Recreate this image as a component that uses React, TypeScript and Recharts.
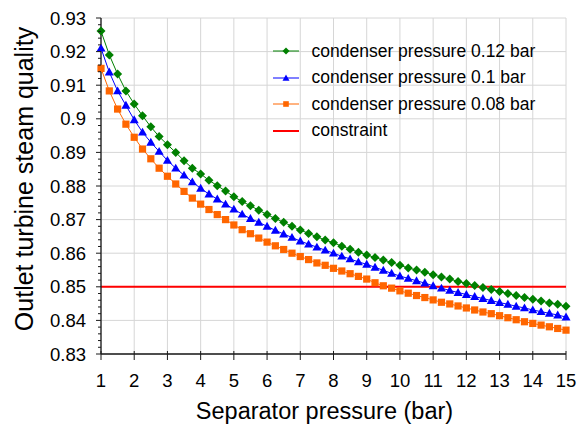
import React from 'react';
import { LineChart, Line, XAxis, YAxis, CartesianGrid } from 'recharts';

// separator pressure (bar), one point every 0.25 bar
const separatorPressure = [
  1, 1.25, 1.5, 1.75, 2, 2.25, 2.5, 2.75, 3, 3.25, 3.5, 3.75, 4, 4.25, 4.5, 4.75,
  5, 5.25, 5.5, 5.75, 6, 6.25, 6.5, 6.75, 7, 7.25, 7.5, 7.75, 8, 8.25, 8.5, 8.75,
  9, 9.25, 9.5, 9.75, 10, 10.25, 10.5, 10.75, 11, 11.25, 11.5, 11.75, 12, 12.25, 12.5, 12.75,
  13, 13.25, 13.5, 13.75, 14, 14.25, 14.5, 14.75, 15,
];

// outlet steam quality, condenser 0.12 bar
const quality012 = [
  0.9261, 0.919, 0.9133, 0.9083, 0.9044, 0.9009, 0.8976, 0.8947, 0.8923, 0.89, 0.8875, 0.8853, 0.8836, 0.8817, 0.8801, 0.8785,
  0.8768, 0.8754, 0.8741, 0.8728, 0.8715, 0.8703, 0.8692, 0.868, 0.8669, 0.8659, 0.8649, 0.8639, 0.8631, 0.8621, 0.8612, 0.8603,
  0.8595, 0.8587, 0.858, 0.8572, 0.8564, 0.8556, 0.855, 0.8543, 0.8536, 0.8529, 0.8523, 0.8516, 0.851, 0.8504, 0.8498, 0.8492,
  0.8486, 0.848, 0.8474, 0.8468, 0.8463, 0.8458, 0.8452, 0.8448, 0.8442,
];

// condenser 0.1 bar
const quality010 = [
  0.921, 0.9139, 0.9083, 0.904, 0.8997, 0.896, 0.893, 0.8903, 0.8876, 0.8853, 0.8832, 0.8812, 0.8793, 0.8776, 0.8761, 0.8746,
  0.8731, 0.8716, 0.8703, 0.8692, 0.868, 0.8668, 0.8657, 0.8647, 0.8636, 0.8627, 0.8618, 0.8609, 0.86, 0.8591, 0.8583, 0.8574,
  0.8567, 0.8558, 0.8549, 0.854, 0.8532, 0.8525, 0.8518, 0.8511, 0.8503, 0.8496, 0.8489, 0.8483, 0.8477, 0.8471, 0.8465, 0.8459,
  0.8453, 0.8448, 0.8442, 0.8437, 0.8431, 0.8426, 0.8421, 0.8416, 0.841,
];

// condenser 0.08 bar
const quality008 = [
  0.915, 0.9083, 0.9029, 0.8984, 0.8945, 0.891, 0.8881, 0.8853, 0.8829, 0.8806, 0.8784, 0.8764, 0.8746, 0.873, 0.8715, 0.87,
  0.8684, 0.867, 0.8658, 0.8645, 0.8633, 0.8622, 0.8611, 0.86, 0.859, 0.8581, 0.8571, 0.8564, 0.8555, 0.8547, 0.8539, 0.8531,
  0.8523, 0.8512, 0.8503, 0.8496, 0.8488, 0.8481, 0.8474, 0.8468, 0.8461, 0.8454, 0.8449, 0.8443, 0.8437, 0.8431, 0.8425, 0.842,
  0.8414, 0.8408, 0.8402, 0.8396, 0.8391, 0.8386, 0.8381, 0.8376, 0.8371,
];

const constraintPressure = [1, 15];
const constraintQuality = [0.85, 0.85];

const xTicks = [1, 2, 3, 4, 5, 6, 7, 8, 9, 10, 11, 12, 13, 14, 15];
const yTicks = [0.83, 0.84, 0.85, 0.86, 0.87, 0.88, 0.89, 0.9, 0.91, 0.92, 0.93];
// the frame's top and right edges carry their own unlabelled ticks
const topTicks = [0, 1, 2, 3, 4, 5, 6, 7, 8];
const rightTicks = [0, 1, 2, 3, 4, 5, 6];

const seriesNames = [
  'condenser pressure 0.12 bar',
  'condenser pressure 0.1 bar',
  'condenser pressure 0.08 bar',
  'constraint',
];

const FONT = '"Liberation Sans", Arial, sans-serif';
const AXIS = '#1a1a1a';
const GREEN = '#008000';
const BLUE = '#0000ff';
const ORANGE = '#ff6600';
const RED = '#ff0000';

const toPoints = (xs: number[], ys: number[]) => xs.map((x, i) => ({ x, y: ys[i] }));

const yMinor = yTicks.slice(0, -1).flatMap((v) => [1, 2, 3, 4].map((k) => +(v + k * 0.002).toFixed(3)));
const yAllTicks = [...yTicks, ...yMinor].sort((a, b) => a - b);
const rightMinor = rightTicks.slice(0, -1).flatMap((v) => [0.2, 0.4, 0.6, 0.8].map((k) => +(v + k).toFixed(1)));
const rightAllTicks = [...rightTicks, ...rightMinor].sort((a, b) => a - b);

const isIn = (list: number[], v: number) => list.some((t) => Math.abs(t - v) < 1e-6);

type Shape = 'diamond' | 'triangle' | 'square';

function Marker({ shape, cx, cy, r, color }: { shape: Shape; cx: number; cy: number; r: number; color: string }) {
  if (shape === 'diamond') {
    return <polygon points={`${cx},${cy - r} ${cx + r},${cy} ${cx},${cy + r} ${cx - r},${cy}`} fill={color} />;
  }
  if (shape === 'triangle') {
    return <polygon points={`${cx},${cy - r} ${cx + r},${cy + r * 0.75} ${cx - r},${cy + r * 0.75}`} fill={color} />;
  }
  return <rect x={cx - r * 0.8} y={cy - r * 0.8} width={r * 1.6} height={r * 1.6} fill={color} />;
}

const dotOf = (shape: Shape, color: string) => (p: any) => (
  <Marker key={`${shape}-${p.index}`} shape={shape} cx={p.cx} cy={p.cy} r={4.5} color={color} />
);

function LeftTick({ x, y, payload }: any) {
  const major = isIn(yTicks, payload.value);
  return (
    <g>
      <line x1={x - (major ? 5 : 3)} x2={x} y1={y} y2={y} stroke={AXIS} strokeWidth={1} />
      {major && (
        <text x={x - 15} y={y} dy="0.355em" textAnchor="end" fontSize={18.5} fill="#000" fontFamily={FONT}>
          {String(+payload.value.toFixed(2))}
        </text>
      )}
    </g>
  );
}

function BottomTick({ x, y, payload }: any) {
  return (
    <g>
      <line x1={x} x2={x} y1={y - 3} y2={y + 6} stroke={AXIS} strokeWidth={1} />
      <text x={x} y={y + 33} textAnchor="middle" fontSize={18.5} fill="#000" fontFamily={FONT}>
        {payload.value}
      </text>
    </g>
  );
}

function TopTick({ x, y }: any) {
  return <line x1={x} x2={x} y1={y} y2={y + 6} stroke={AXIS} strokeWidth={1} />;
}

function RightTick({ x, y, payload }: any) {
  const major = isIn(rightTicks, payload.value);
  return <line x1={x - (major ? 7 : 4)} x2={x} y1={y} y2={y} stroke={AXIS} strokeWidth={1} />;
}

const legendItems = [
  { name: seriesNames[0], color: GREEN, shape: 'diamond' as Shape, width: 1 },
  { name: seriesNames[1], color: BLUE, shape: 'triangle' as Shape, width: 1 },
  { name: seriesNames[2], color: ORANGE, shape: 'square' as Shape, width: 1 },
  { name: seriesNames[3], color: RED, shape: null, width: 2 },
];

function ChartLegend() {
  return (
    <div style={{ position: 'absolute', top: 38, left: 273, fontFamily: FONT, fontSize: 17.5, color: '#000' }}>
      {legendItems.map((item) => (
        <div key={item.name} style={{ display: 'flex', alignItems: 'center', height: 26.5, whiteSpace: 'nowrap' }}>
          <svg width={26} height={14} style={{ marginRight: 12.5, flex: 'none' }}>
            <line x1={0} x2={26} y1={7} y2={7} stroke={item.color} strokeWidth={item.width} />
            {item.shape && <Marker shape={item.shape} cx={13} cy={7} r={3.5} color={item.color} />}
          </svg>
          <span>{item.name}</span>
        </div>
      ))}
    </div>
  );
}

export default function App() {
  return (
    <div style={{ position: 'absolute', left: 0, top: 0, width: 577, height: 425, background: '#fff' }}>
      <LineChart width={577} height={425} margin={{ top: 18, right: 11, bottom: 0, left: 0 }}>
        <CartesianGrid stroke="#d6d6d6" strokeWidth={1} horizontalValues={yTicks} verticalValues={xTicks} />
        <XAxis
          type="number"
          dataKey="x"
          domain={[1, 15]}
          ticks={xTicks}
          interval={0}
          height={71}
          tickSize={0}
          tickMargin={0}
          tickLine={false}
          tick={<BottomTick />}
          axisLine={{ stroke: AXIS, strokeWidth: 1.3 }}
          label={{ value: 'Separator pressure (bar)', position: 'insideBottom', offset: 6, dx: -9, fill: '#000', fontSize: 23.5, fontFamily: FONT }}
        />
        <XAxis
          xAxisId="top"
          orientation="top"
          type="number"
          domain={[0, 8]}
          ticks={topTicks}
          interval={0}
          height={0}
          tickSize={0}
          tickMargin={0}
          tickLine={false}
          tick={<TopTick />}
          axisLine={{ stroke: AXIS, strokeWidth: 1.3 }}
        />
        <YAxis
          type="number"
          domain={[0.83, 0.93]}
          ticks={yAllTicks}
          interval={0}
          width={101}
          tickSize={0}
          tickMargin={0}
          tickLine={false}
          tick={<LeftTick />}
          axisLine={{ stroke: AXIS, strokeWidth: 1.3 }}
          label={{ value: 'Outlet turbine steam quality', angle: -90, position: 'insideLeft', offset: 24, dy: -7, style: { textAnchor: 'middle' }, fill: '#000', fontSize: 25, fontFamily: FONT }}
        />
        <YAxis
          yAxisId="right"
          orientation="right"
          type="number"
          domain={[0, 6]}
          ticks={rightAllTicks}
          interval={0}
          width={0}
          tickSize={0}
          tickMargin={0}
          tickLine={false}
          tick={<RightTick />}
          axisLine={{ stroke: AXIS, strokeWidth: 1.3 }}
        />
        <Line
          data={toPoints(separatorPressure, quality008)}
          dataKey="y"
          name={seriesNames[2]}
          stroke={ORANGE}
          strokeWidth={1}
          dot={dotOf('square', ORANGE)}
          activeDot={false}
          isAnimationActive={false}
        />
        <Line
          data={toPoints(separatorPressure, quality010)}
          dataKey="y"
          name={seriesNames[1]}
          stroke={BLUE}
          strokeWidth={1}
          dot={dotOf('triangle', BLUE)}
          activeDot={false}
          isAnimationActive={false}
        />
        <Line
          data={toPoints(separatorPressure, quality012)}
          dataKey="y"
          name={seriesNames[0]}
          stroke={GREEN}
          strokeWidth={1}
          dot={dotOf('diamond', GREEN)}
          activeDot={false}
          isAnimationActive={false}
        />
        <Line
          data={toPoints(constraintPressure, constraintQuality)}
          dataKey="y"
          name={seriesNames[3]}
          stroke={RED}
          strokeWidth={2}
          dot={false}
          activeDot={false}
          isAnimationActive={false}
        />
      </LineChart>
      <ChartLegend />
    </div>
  );
}
